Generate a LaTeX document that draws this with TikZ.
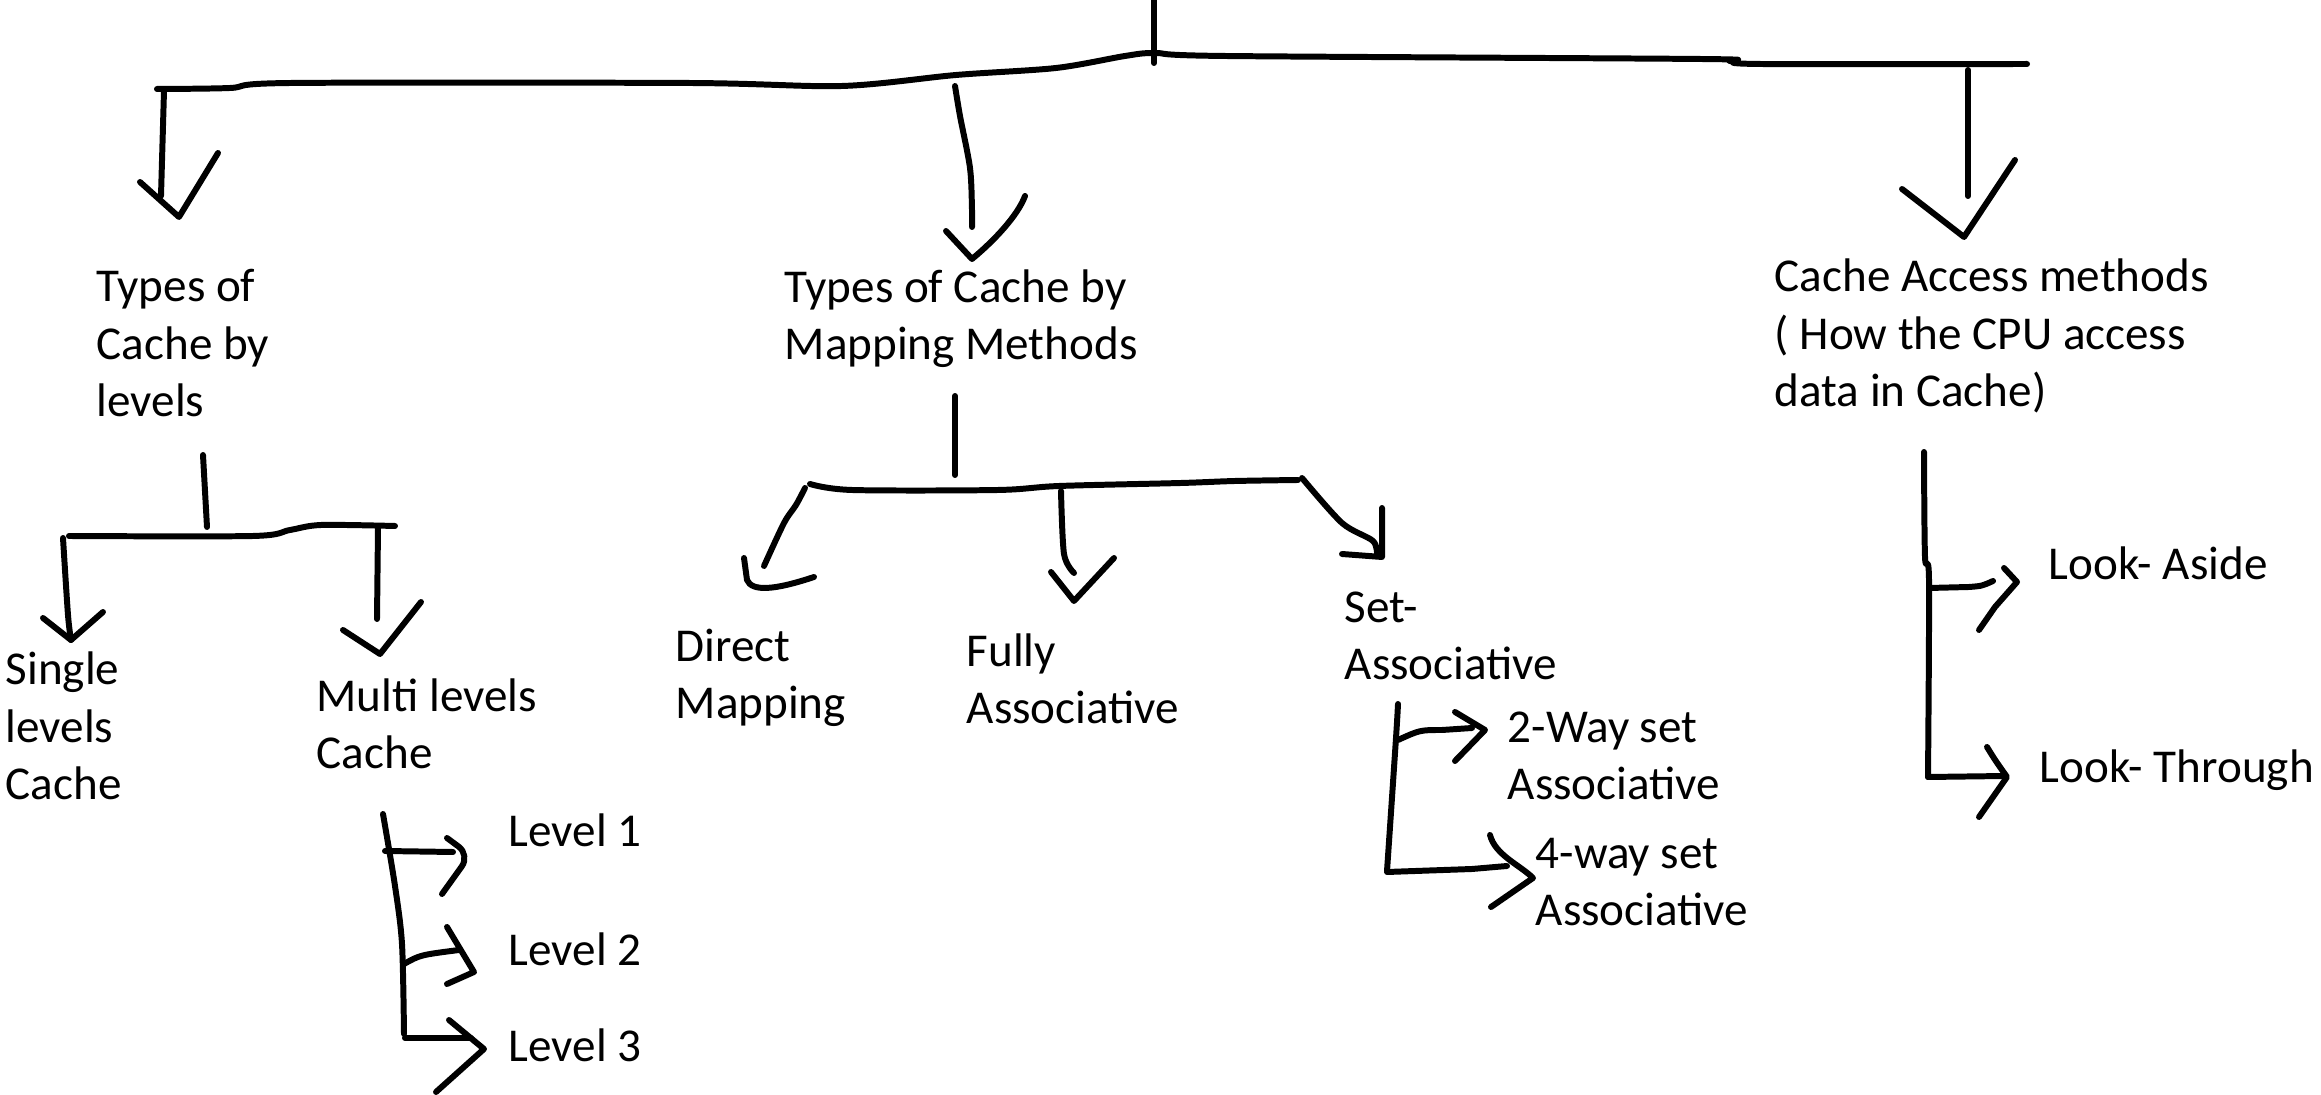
\documentclass[tikz,border=0pt]{standalone}
\usepackage{fontspec}
\setmainfont{Carlito}
\begin{document}
\begin{tikzpicture}[x=0.01cm, y=-0.01cm,
  pen/.style={line width=1.7pt, line cap=round, line join=round},
  lbl/.style={anchor=base west, inner sep=0pt, align=left,
    font=\fontsize{13.4}{16.4}\selectfont}]
\useasboundingbox (0,0) rectangle (2321,1095);

% ---------- labels (placed by the baseline of their last line) ----------
\node[lbl] (levels)   at (96,417)   {Types of\\Cache by\\levels};
\node[lbl] (mapping)  at (784,360)  {Types of Cache by\\Mapping Methods};
\node[lbl] (access)   at (1774,407) {Cache Access methods\\( How the CPU access\\data in Cache)};
\node[lbl] (single)   at (5,800)    {Single\\levels\\Cache};
\node[lbl] (multi)    at (316,769)  {Multi levels\\Cache};
\node[lbl] (lv1)      at (508,847)  {Level 1};
\node[lbl] (lv2)      at (508,966)  {Level 2};
\node[lbl] (lv3)      at (508,1061) {Level 3};
\node[lbl] (direct)   at (675,719)  {Direct\\Mapping};
\node[lbl] (fully)    at (966,724)  {Fully\\Associative};
\node[lbl] (setassoc) at (1344,680) {Set-\\Associative};
\node[lbl] (twoway)   at (1507,800) {2-Way set\\Associative};
\node[lbl] (fourway)  at (1535,926) {4-way set\\Associative};
\node[lbl] (aside)    at (2048,580) {Look- Aside};
\node[lbl] (through)  at (2039,783) {Look- Through};

% ---------- joints ----------
\coordinate (rootTop)  at (1154,0);
\coordinate (rootJoin) at (1154,63);
\coordinate (barL)     at (157,89);
\coordinate (barR)     at (2027,64);

% ---------- top level ----------
\draw[pen] (rootTop) -- (rootJoin);
\draw[pen] plot[smooth, tension=0.5] coordinates {(barL) (230,88) (291,83) (689,83) (842,86) (956,75) (1056,68) (1125,56) (1155,53) (1225,56) (1700,59) (1730,61) (1760,64) (barR)};

% drop to "levels"
\draw[pen] (164,91) -- (161,196);
\draw[pen] (140,182) -- (179,217) -- (218,153);
% drop to "mapping"
\draw[pen] plot[smooth, tension=0.5] coordinates {(955,86) (960,116) (970,168) (972,210) (972,227)};
\draw[pen] (946,231) -- (972,259) .. controls (995,240) and (1018,215) .. (1025,196);
% drop to "access"
\draw[pen] (1968,70) -- (1968,196);
\draw[pen] (1902,189) -- (1964,237) -- (2015,160);

% ---------- cache by levels ----------
\draw[pen] (203,455) -- (207,527);
\draw[pen] plot[smooth, tension=0.5] coordinates {(69,536) (253,536) (290,530) (321,525) (395,526)};
\draw[pen] plot[smooth, tension=0.5] coordinates {(63,538) (68,615) (71,640)};
\draw[pen] (43,618) -- (71,640) -- (103,612);
\draw[pen] (378,528) -- (377,619);
\draw[pen] (343,630) -- (380,654) -- (421,602);

% multi levels branches
\draw[pen] plot[smooth, tension=0.5] coordinates {(383,814) (395,886) (402,944) (404,1034)};
\draw[pen] (385,851) -- (453,852);
\draw[pen, rounded corners=4pt] (447,838) -- (470,855) -- (442,894);
\draw[pen] (404,964) .. controls (420,955) .. (459,950);
\draw[pen] (447,927) -- (474,972) -- (447,984);
\draw[pen] (405,1038) -- (471,1038);
\draw[pen] (449,1020) -- (484,1049) -- (436,1092);

% ---------- mapping methods ----------
\draw[pen] (955,396) -- (955,475);
\draw[pen] plot[smooth, tension=0.5] coordinates {(810,484) (852,490) (998,490) (1059,486) (1181,483) (1235,481) (1298,480)};
% direct
\draw[pen] plot[smooth, tension=0.5] coordinates {(805,488) (796,505) (784,523) (764,566)};
\draw[pen] (744,558) -- (747,580) .. controls (752,592) and (775,590) .. (814,577);
% fully
\draw[pen] plot[smooth, tension=0.5] coordinates {(1061,491) (1064,554) (1074,573)};
\draw[pen] (1051,572) -- (1074,601) -- (1114,558);
% set-associative
\draw[pen] plot[smooth, tension=0.5] coordinates {(1302,478) (1342,523) (1373,541) (1377,556)};
\draw[pen] (1382,508) -- (1382,557) -- (1342,554);

% set-associative branches
\draw[pen] plot[smooth, tension=0.5] coordinates {(1398,704) (1396,738) (1387,871)};
\draw[pen] (1398,740) .. controls (1420,730) .. (1442,730) -- (1472,728);
\draw[pen] (1455,712) -- (1485,730) -- (1455,761);
\draw[pen] (1387,872) -- (1472,869) -- (1507,866);
\draw[pen] (1490,835) .. controls (1495,855) and (1520,865) .. (1533,878) -- (1491,907);

% ---------- access methods ----------
\draw[pen] plot[smooth, tension=0.5] coordinates {(1924,452) (1925,557) (1929,580) (1928,777)};
\draw[pen] (1929,588) -- (1969,587) .. controls (1982,586) .. (1993,581);
\draw[pen] (2004,568) -- (2017,582) -- (1995,607) -- (1979,630);
\draw[pen] (1928,777) -- (2005,776);
\draw[pen] (1987,747) .. controls (1995,760) .. (2007,777) -- (1979,817);
\end{tikzpicture}
\end{document}
